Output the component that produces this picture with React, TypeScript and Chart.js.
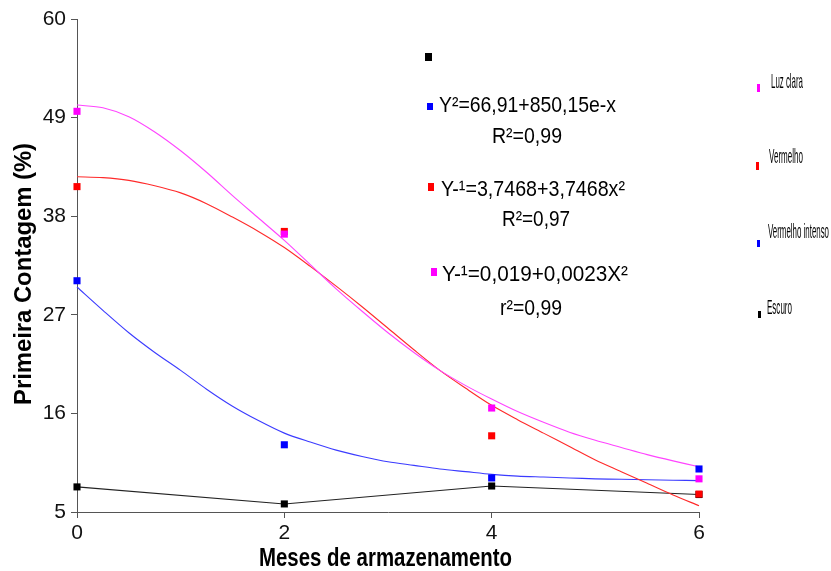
import React, { useEffect, useRef } from "react";
import { Chart, registerables } from "chart.js";

Chart.register(...registerables);

// ---- data ----
const months = [0, 2, 4, 6];
const luzClara = [49.7, 36.0, 16.6, 8.7];
const vermelho = [41.3, 36.3, 13.5, 7.0];
const vermelhoIntenso = [30.8, 12.5, 8.8, 9.8];
const escuro = [7.8, 5.9, 7.9, 6.95];

// fitted curves
const fitX = [0, 0.25, 0.5, 0.75, 1, 1.25, 1.5, 1.75, 2, 2.25, 2.5, 2.75, 3, 3.25, 3.5, 3.75, 4, 4.25, 4.5, 4.75, 5, 5.25, 5.5, 5.75, 6];
const fitLuzClara = [50.4, 50.1, 49.1, 47.4, 45.3, 42.9, 40.3, 37.8, 35.3, 32.6, 29.9, 27.4, 25.0, 22.8, 20.8, 19.1, 17.6, 16.2, 15.0, 13.9, 13.0, 12.2, 11.4, 10.7, 10.05];
const fitVermelho = [42.4, 42.3, 42.0, 41.4, 40.6, 39.4, 37.9, 36.3, 34.5, 32.4, 30.2, 27.9, 25.5, 23.1, 20.8, 18.8, 16.9, 15.3, 13.8, 12.3, 10.8, 9.5, 8.2, 6.9, 5.7];
const fitVermelhoIntenso = [30.1, 27.5, 25.0, 22.8, 20.8, 18.7, 16.8, 15.2, 13.8, 12.8, 11.9, 11.2, 10.6, 10.2, 9.8, 9.5, 9.2, 9.0, 8.9, 8.8, 8.7, 8.65, 8.6, 8.55, 8.5];

const xTicks = [0, 2, 4, 6];
const yTicks = [5, 16, 27, 38, 49, 60];

const seriesNames = ["Luz clara", "Vermelho", "Vermelho intenso", "Escuro"];
const equations = [
  "Y²=66,91+850,15e-x",
  "R²=0,99",
  "Y-¹=3,7468+3,7468x²",
  "R²=0,97",
  "Y-¹=0,019+0,0023X²",
  "r²=0,99",
];
const xTitle = "Meses de armazenamento";
const yTitle = "Primeira Contagem (%)";

const C_MAG = "#ff00ff";
const C_RED = "#ff0000";
const C_BLUE = "#0000ff";
const C_BLACK = "#000000";

const toXY = (xs: number[], ys: number[]) => xs.map((x, i) => ({ x, y: ys[i] }));

function fitText(ctx: CanvasRenderingContext2D, text: string, x: number, y: number, font: string, targetW: number) {
  ctx.save();
  ctx.font = font;
  const w = ctx.measureText(text).width;
  ctx.translate(x, y);
  ctx.scale(targetW / w, 1);
  ctx.textAlign = "left";
  ctx.textBaseline = "alphabetic";
  ctx.fillStyle = "#000";
  ctx.fillText(text, 0, 0);
  ctx.restore();
}

const decorPlugin = {
  id: "decor",
  afterDraw(chart: any) {
    const ctx: CanvasRenderingContext2D = chart.ctx;
    ctx.save();
    // equation block markers
    ctx.fillStyle = C_BLACK;
    ctx.fillRect(425, 53, 7, 8);
    ctx.fillStyle = C_BLUE;
    ctx.fillRect(427, 103, 6, 7);
    ctx.fillStyle = C_RED;
    ctx.fillRect(428, 183, 6, 8);
    ctx.fillStyle = C_MAG;
    ctx.fillRect(431, 268, 6, 8);

    const ef = "22px 'Liberation Sans', Arial, sans-serif";
    fitText(ctx, equations[0], 439, 112, ef, 177);
    fitText(ctx, equations[1], 492, 143, ef, 70);
    fitText(ctx, equations[2], 441, 196, ef, 184);
    fitText(ctx, equations[3], 502, 226, ef, 68);
    fitText(ctx, equations[4], 442, 281, ef, 186);
    fitText(ctx, equations[5], 500, 315, ef, 62);

    // right-hand legend
    const lf = "21px 'Liberation Sans', Arial, sans-serif";
    const legendCols = [C_MAG, C_RED, C_BLUE, C_BLACK];
    const marks = [
      [757, 84, 3, 8],
      [756, 162, 3, 8],
      [757, 240, 3, 7],
      [758, 311, 3, 7],
    ];
    const labels = [
      [771, 88, 32],
      [769, 163, 34],
      [768, 238, 61],
      [767, 314, 25],
    ];
    for (let i = 0; i < 4; i++) {
      ctx.fillStyle = legendCols[i];
      const m = marks[i];
      ctx.fillRect(m[0], m[1], m[2], m[3]);
      const l = labels[i];
      fitText(ctx, seriesNames[i], l[0], l[1], lf, l[2]);
    }

    // axis titles
    fitText(ctx, xTitle, 259, 566, "bold 25px 'Liberation Sans', Arial, sans-serif", 253);
    ctx.save();
    ctx.translate(31, 405);
    ctx.rotate(-Math.PI / 2);
    fitText(ctx, yTitle, 0, 0, "bold 24px 'Liberation Sans', Arial, sans-serif", 262);
    ctx.restore();
    ctx.restore();
  },
};

export default function App() {
  const ref = useRef<HTMLCanvasElement | null>(null);
  useEffect(() => {
    if (!ref.current) return;
    const pointDs = (label: string, ys: number[], color: string, order: number) => ({
      label,
      data: toXY(months, ys),
      showLine: false,
      pointStyle: "rect",
      pointRadius: 5,
      pointBorderWidth: 0,
      backgroundColor: color,
      borderColor: color,
      clip: false,
      order,
    });
    const curveDs = (label: string, ys: number[], color: string, order: number) => ({
      label,
      data: toXY(fitX, ys),
      showLine: true,
      pointRadius: 0,
      borderWidth: 1.1,
      borderColor: color,
      backgroundColor: color,
      tension: 0.3,
      fill: false,
      clip: false,
      order,
    });
    const chart = new Chart(ref.current, {
      type: "scatter",
      data: {
        datasets: [
          pointDs("Vermelho intenso", vermelhoIntenso, C_BLUE, 1),
          pointDs("Luz clara", luzClara, C_MAG, 2),
          pointDs("Vermelho", vermelho, C_RED, 3),
          pointDs("Escuro", escuro, C_BLACK, 4),
          curveDs("fit Luz clara", fitLuzClara, "#ff44ff", 10),
          curveDs("fit Vermelho", fitVermelho, "#ff2a2a", 11),
          curveDs("fit Vermelho intenso", fitVermelhoIntenso, "#3b3bff", 12),
          {
            label: "Escuro linha",
            data: toXY(months, escuro),
            showLine: true,
            pointRadius: 0,
            borderWidth: 1.1,
            borderColor: "#222",
            tension: 0,
            clip: false,
            order: 13,
          },
        ],
      } as any,
      options: {
        animation: false,
        responsive: false,
        maintainAspectRatio: false,
        layout: { padding: { left: 0, right: 132, top: 19, bottom: 0 } },
        plugins: { legend: { display: false }, tooltip: { enabled: false }, title: { display: false } },
        scales: {
          x: {
            type: "linear",
            min: 0,
            max: 6,
            afterBuildTicks: (s: any) => {
              s.ticks = xTicks.map((v) => ({ value: v }));
            },
            afterFit: (s: any) => {
              s.height = 59;
            },
            grid: { display: true, drawOnChartArea: false, drawTicks: true, tickLength: 6, color: "#555", lineWidth: 1 },
            border: { display: true, color: "#555", width: 1 },
            ticks: {
              padding: 3,
              color: "#111",
              font: { family: "'Liberation Sans', Arial, sans-serif", size: 21 },
              maxRotation: 0,
            },
          },
          y: {
            type: "linear",
            min: 5,
            max: 60,
            afterBuildTicks: (s: any) => {
              s.ticks = yTicks.map((v) => ({ value: v }));
            },
            afterFit: (s: any) => {
              s.width = 77;
            },
            grid: { display: true, drawOnChartArea: false, drawTicks: true, tickLength: 6, color: "#555", lineWidth: 1 },
            border: { display: true, color: "#555", width: 1 },
            ticks: {
              padding: 5,
              color: "#111",
              font: { family: "'Liberation Sans', Arial, sans-serif", size: 21 },
            },
          },
        },
      } as any,
      plugins: [decorPlugin],
    });
    return () => chart.destroy();
  }, []);
  return (
    <div style={{ position: "fixed", left: 0, top: 0, width: 831, height: 571, background: "#fff" }}>
      <canvas ref={ref} width={831} height={571} style={{ display: "block" }} />
    </div>
  );
}
